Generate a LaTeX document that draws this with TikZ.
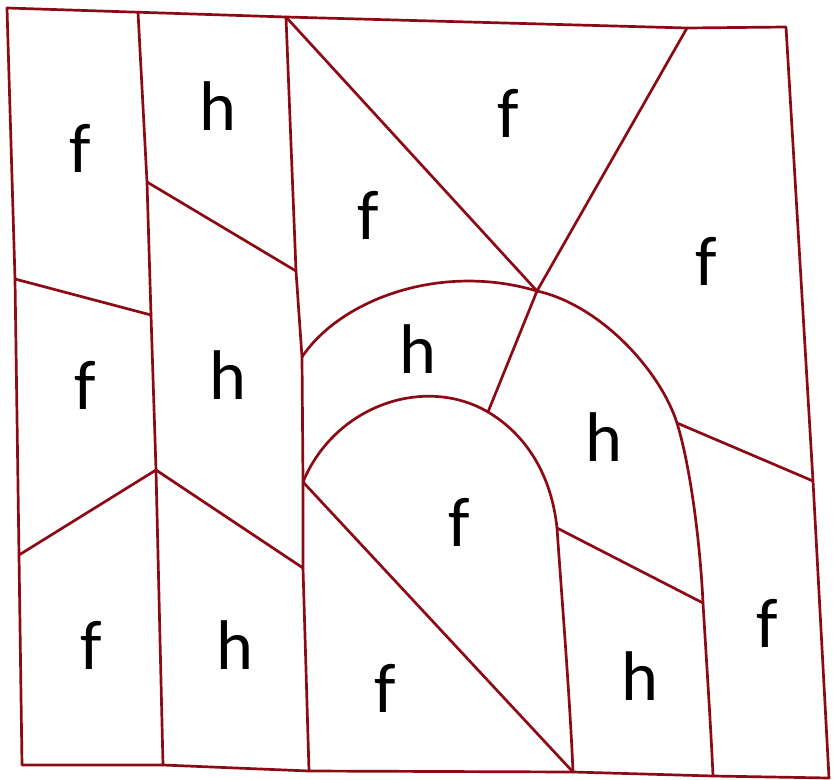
\documentclass[tikz,border=0pt]{standalone}
\usepackage{fontspec}
\setmainfont{Carlito}
\definecolor{lineRed}{RGB}{140,10,20}
\begin{document}
\begin{tikzpicture}[x=.03cm,y=-.03cm,line join=round,line cap=round,font=\fontsize{60}{66}\selectfont]
				\useasboundingbox (0,0) rectangle (833,780);
				\path (7,8) coordinate (A) (786,27) coordinate (B)
				(829,778) coordinate (C) (22,765) coordinate (D)
				(138,12) coordinate (E) (147,182) coordinate (F) (151,315) coordinate (G)
				(156,470) coordinate (H) (163,765) coordinate (I)
				(286,17) coordinate (J) (296,271) coordinate (K) (302,357) coordinate (L)
				(303,482) coordinate (M) (303,568) coordinate (N) (309,771) coordinate (P)
				(15,279) coordinate (Q) (19,555) coordinate (R)
				(537,291) coordinate (O) (687,28) coordinate (T) (488,412) coordinate (U)
				(677,423) coordinate (V) (703,603) coordinate (W) (813,481) coordinate (X)
				(557,528) coordinate (Y) (573,772) coordinate (Z) (713,776) coordinate (S);
				\begin{scope}[draw=lineRed,line width=2.3pt]
				\draw (A)--(J)--(T)--(B)--(X)--(C)--(S)--(Z)--(P)--(I)--(D)--(R)--(Q)--cycle;
				\draw (E)--(F)--(G)--(H)--(I) (J)--(K)--(L)--(M)--(N)--(P);
				\draw (Q)--(G) (F)--(K) (R)--(H)--(N);
				\draw (J)--(O)--(T) (O)--(U) (M)--(Z) (V)--(X) (Y)--(W);
				% outer arc
				\draw (L) .. controls (340,300) and (440,262) .. (O)
				.. controls (600,305) and (660,370) .. (V)
				.. controls (690,465) and (700,540) .. (W)
				.. controls (707,670) and (711,730) .. (S);
				% inner arc
				\draw (M) .. controls (335,405) and (425,375) .. (U)
				.. controls (530,437) and (552,480) .. (Y)
				.. controls (562,600) and (570,700) .. (Z);
				\end{scope}
				\foreach \x/\y/\t [count=\i] in {80/148/f,218/106/h,508/113/f,368/215/f,706/261/f,
				85/385/f,228/375/h,418/349/h,604/437/h,459/522/f,
				91/645/f,235/645/h,385/688/f,640/676/h,767/623/f
				}{\node (lab\i) at (\x,\y) {\t};}
		\end{tikzpicture}
\end{document}
